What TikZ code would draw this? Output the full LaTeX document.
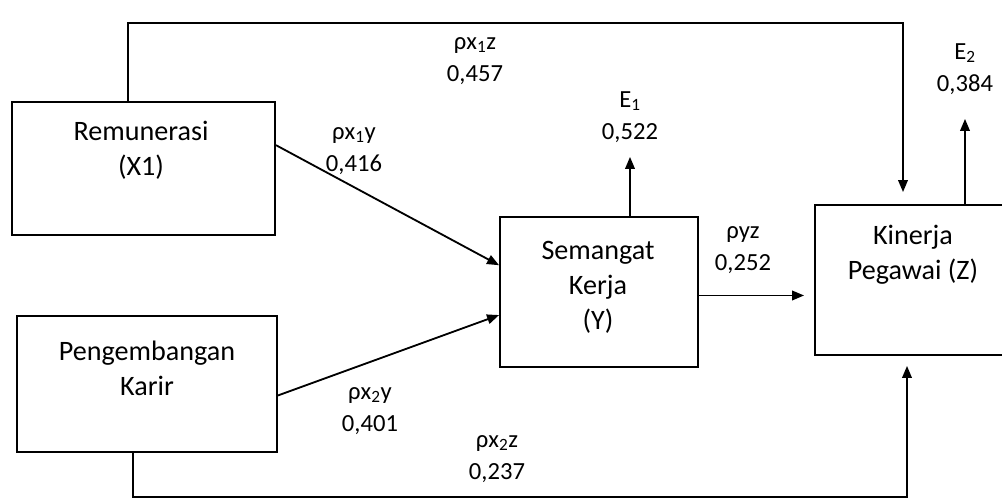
\documentclass[tikz,border=0pt]{standalone}
\usepackage{fontspec}
\setmainfont{Carlito}
\usetikzlibrary{arrows.meta,positioning}

\begin{document}
\begin{tikzpicture}[
  x=0.025cm, y=-0.025cm,
  box/.style={draw, line width=1.3pt, inner sep=0pt},
  txt/.style={font=\fontsize{20}{25}\selectfont, align=center, inner sep=0pt},
  lab/.style={font=\fontsize{17.5}{23}\selectfont, align=center, inner sep=0pt},
  arr/.style={-{Triangle[length=3mm,width=2.4mm]}, line width=1.3pt},
]
\useasboundingbox (0,0) rectangle (1002,500);
% variables
\node[box, minimum width=6.575cm, minimum height=3.325cm] (x1) at (143.5,168.5) {};
\node[box, minimum width=6.5cm, minimum height=3.4cm]     (x2) at (147,384) {};
\node[box, minimum width=4.95cm, minimum height=3.75cm]   (y)  at (599,292) {};
\node[box, minimum width=4.875cm, minimum height=3.75cm]  (z)  at (912.5,280) {};
\node[txt] (x1t) at (141,150) {Remunerasi\\(X1)};
\node[txt] (x2t) at (147,368) {Pengembangan\\Karir};
\node[txt] (yt)  at (598,287) {Semangat\\Kerja\\(Y)};
\node[txt] (zt)  at (913,255) {Kinerja\\Pegawai (Z)};
% path coefficients
\node[lab] (l1) at (475,61)  {ρx\textsubscript{1}z\\0,457};
\node[lab] (l2) at (354,151) {ρx\textsubscript{1}y\\0,416};
\node[lab] (l3) at (370,411) {ρx\textsubscript{2}y\\0,401};
\node[lab] (l4) at (497,459) {ρx\textsubscript{2}z\\0,237};
\node[lab] (l5) at (743,250) {ρyz\\0,252};
\node[lab] (e1) at (630,117) {E\textsubscript{1}\\0,522};
\node[lab] (e2) at (965,69)  {E\textsubscript{2}\\0,384};
% arrows
\draw[arr] (x1.10) -- (y.165);
\draw[arr] (x2.-5) -- (y.193);
\draw[arr, shorten >=0.25cm] (y.-2) -- (y.-2 -| z.west);
\draw[arr, shorten >=0.35cm] (y.north -| e1) -- (e1);
\draw[arr, shorten >=0.6cm] (z.north -| e2) -- (e2);
% direct paths to Z
\coordinate (t1) at (128,23);
\coordinate (t2) at (903,23);
\coordinate (b1) at (133,497);
\coordinate (b2) at (907,497);
\draw[arr, shorten >=0.3cm] (x1.north -| t1) -- (t1) -- (t2) -- (z.north -| t2);
\draw[arr, shorten >=0.25cm] (x2.south -| b1) -- (b1) -- (b2) -- (z.south -| b2);
\end{tikzpicture}
\end{document}
